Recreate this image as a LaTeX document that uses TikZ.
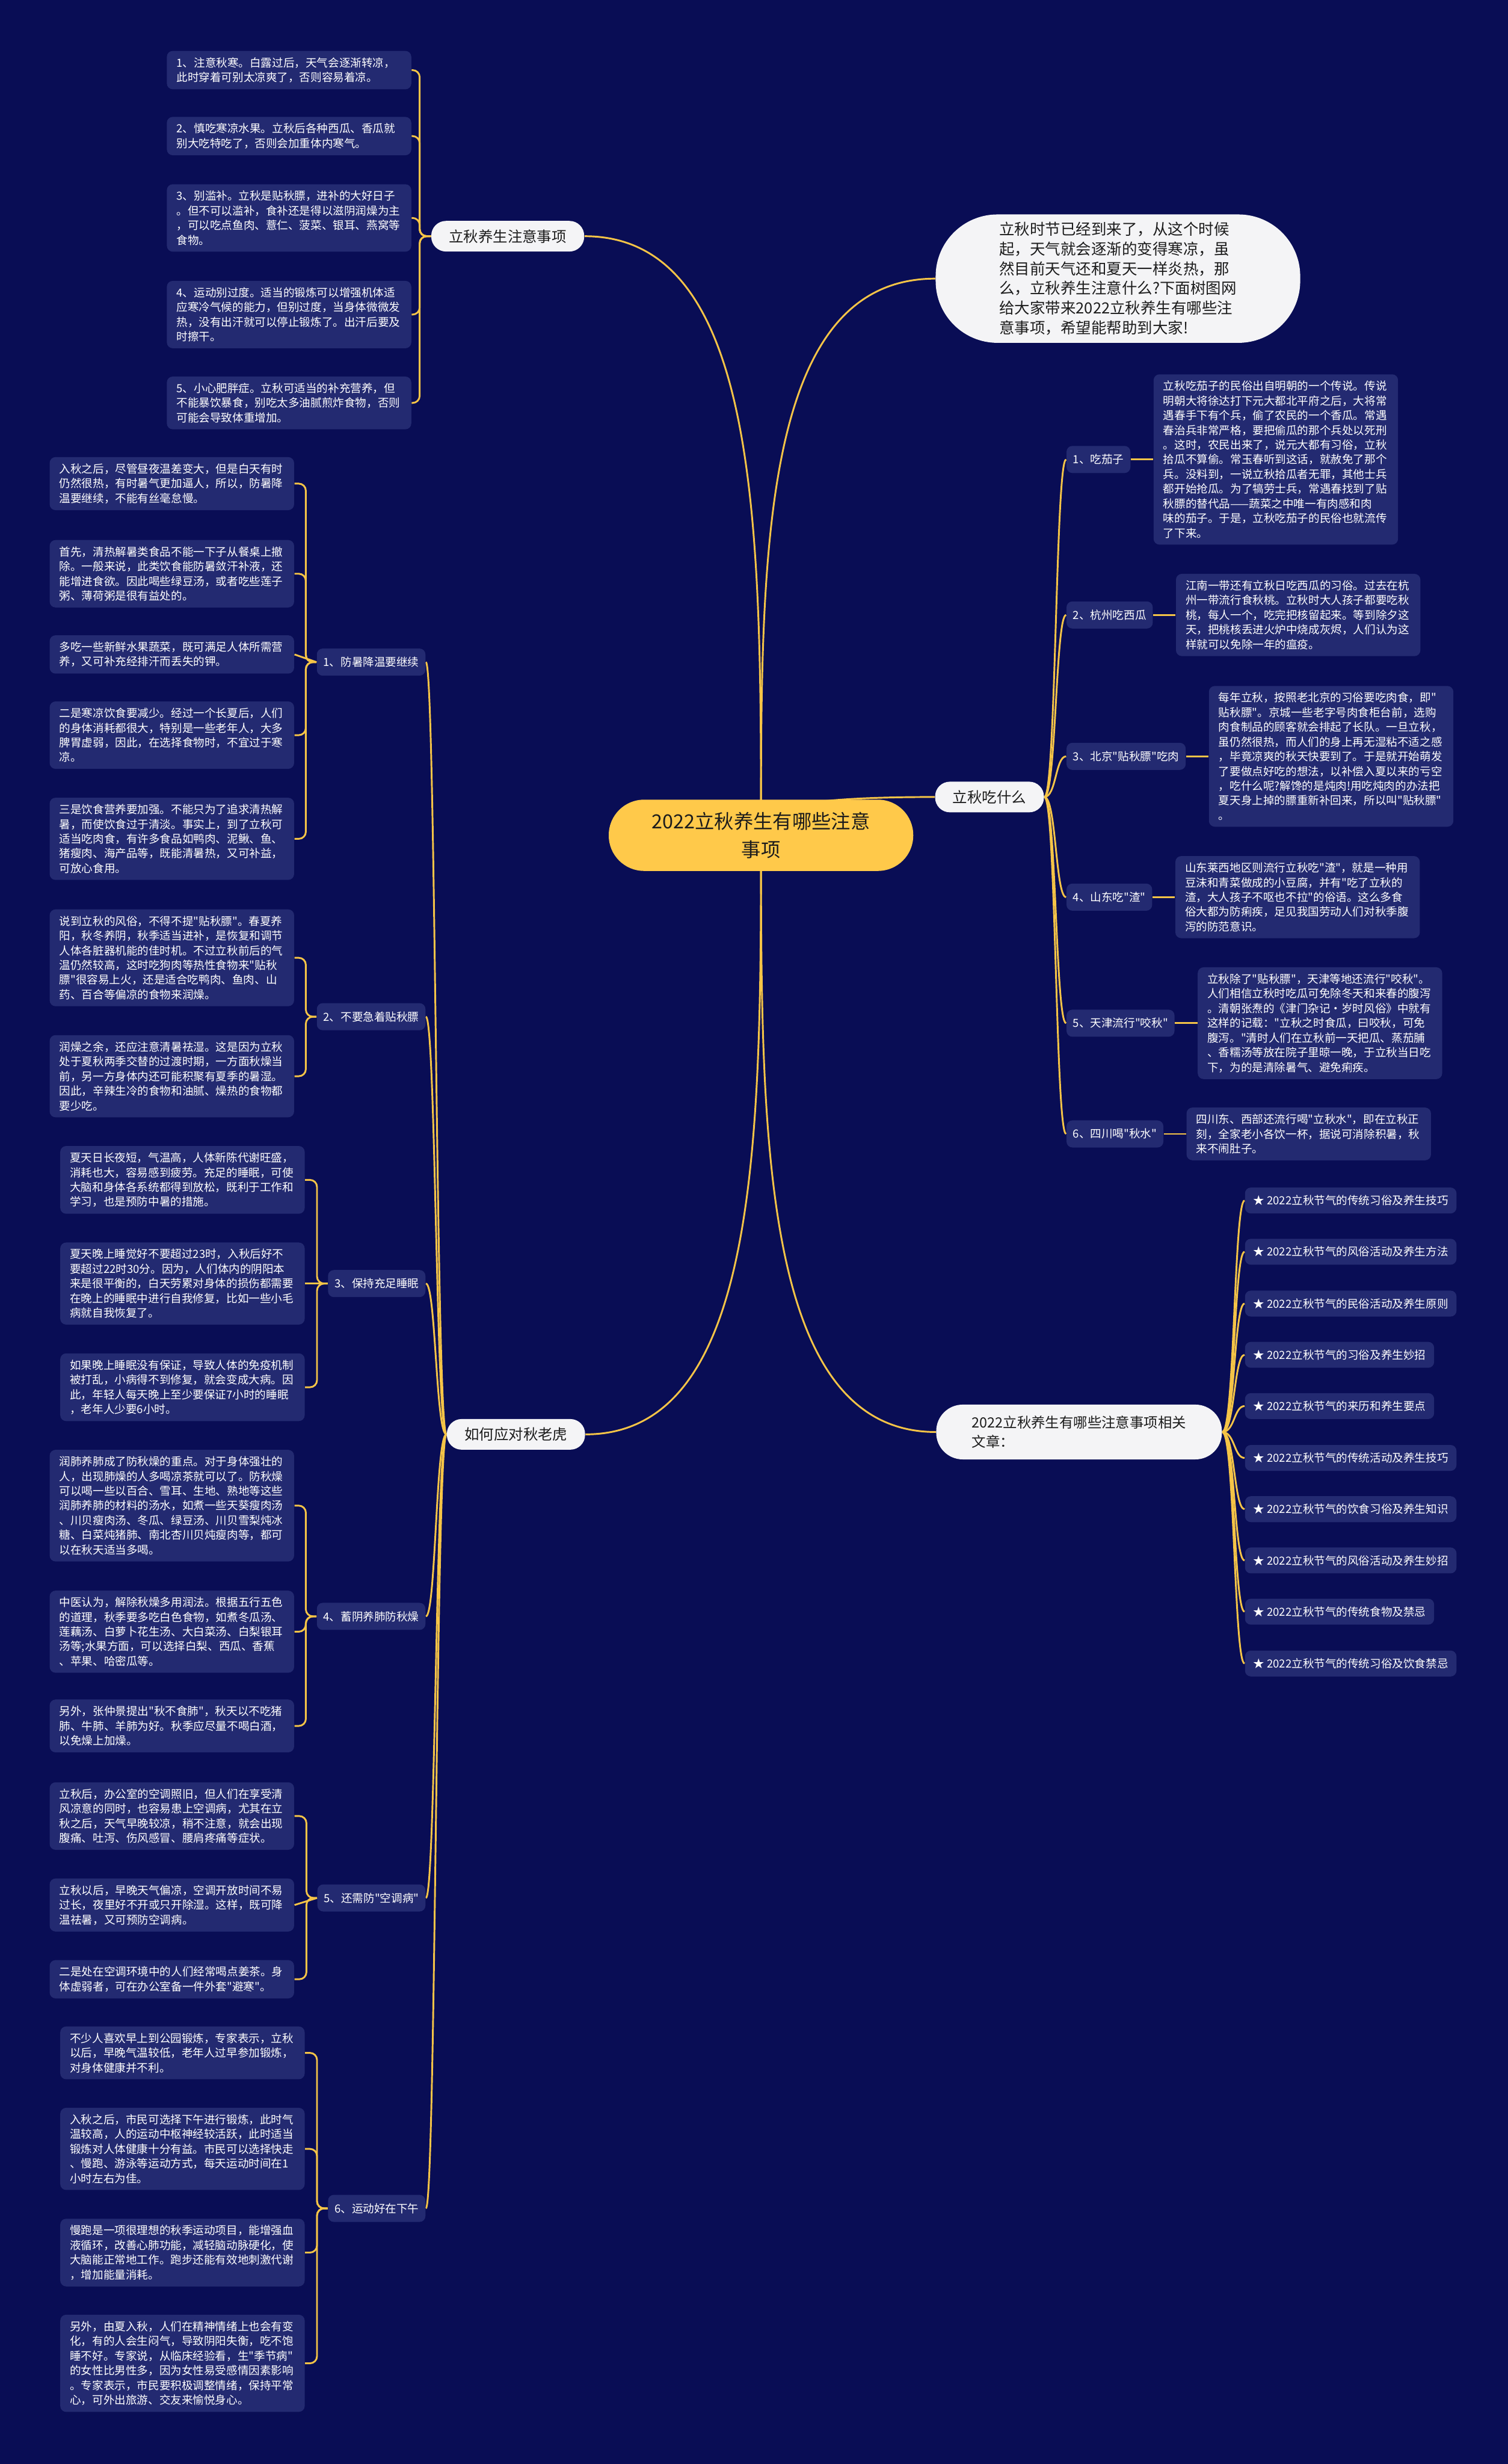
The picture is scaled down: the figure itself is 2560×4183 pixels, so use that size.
\documentclass[tikz,border=0pt]{standalone}
\usepackage{fontspec}
\setmainfont{Noto Sans CJK SC}[Ligatures=TeXOff]
\usetikzlibrary{positioning,backgrounds}
\setlength\parindent{0pt}

\definecolor{bgnavy}{HTML}{090D55}
\definecolor{leafnavy}{HTML}{232A71}
\definecolor{linkgold}{HTML}{F5C447}
\definecolor{rootyellow}{HTML}{FFC94A}
\definecolor{topicwhite}{HTML}{F4F4F6}
\definecolor{inkdark}{HTML}{1C1C1C}

\newcommand\leaffont{\fontsize{5.4pt}{7.1pt}\selectfont}
\newcommand\topicfont{\fontsize{7.1pt}{9.5pt}\selectfont}
\newcommand\introfont{\fontsize{7.4pt}{9.5pt}\selectfont}
\newcommand\rootfont{\fontsize{9.4pt}{13.6pt}\selectfont}

\begin{document}
\begin{tikzpicture}[
  x=0.1mm, y=-0.1mm,
  leafbox/.style={fill=leafnavy, text=white, rounded corners=1mm, font=\leaffont,
    text width=38.2mm, align=left, inner xsep=1.65mm, inner ysep=1.1mm},
  subbox/.style={fill=leafnavy, text=white, rounded corners=1mm, font=\leaffont,
    minimum height=4.6mm, inner xsep=1.1mm, inner ysep=0.4mm},
  artbox/.style={subbox, minimum height=4.4mm, inner xsep=1.4mm},
  topicbox/.style={fill=topicwhite, text=inkdark, rounded corners=2.5mm, font=\topicfont,
    minimum height=5.2mm, inner xsep=3mm, inner ysep=0.5mm},
  rootbox/.style={fill=rootyellow, text=inkdark, rounded corners=6mm, font=\rootfont,
    align=center, minimum width=51.7mm, minimum height=12.1mm},
  link/.style={draw=linkgold, line width=0.3mm},
  twig/.style={link, rounded corners=1.2mm},
  node distance=3.8mm
]
\useasboundingbox (0,0) rectangle (2560,4183);

% ---------- ROOT ----------
\node[rootbox] (root) at (1292,1418) {2022立秋养生有哪些注意\\事项};

% ---------- TOPICS ----------
\node[topicbox, font=\introfont, align=left, rounded corners=10.5mm, minimum width=61.9mm,
  minimum height=21.8mm] (intro) at (1898,473)
  {立秋时节已经到来了，从这个时候\\起，天气就会逐渐的变得寒凉，虽\\然目前天气还和夏天一样炎热，那\\么，立秋养生注意什么?下面树图网\\给大家带来2022立秋养生有哪些注\\意事项，希望能帮助到大家!};
\node[topicbox] (care) at (862,401) {立秋养生注意事项};
\node[topicbox] (eat) at (1680,1353) {立秋吃什么};
\node[topicbox] (tiger) at (876,2435) {如何应对秋老虎};
\node[topicbox, font=\fontsize{6.8pt}{9.3pt}\selectfont, align=left, rounded corners=4.5mm,
  minimum width=48.5mm, minimum height=9.3mm] (rel) at (1832,2431)
  {2022立秋养生有哪些注意事项相关\\文章：};

% ---------- CARE LEAVES ----------
\node[leafbox, anchor=east] (care1) at (699,119) {1、注意秋寒。白露过后，天气会逐渐转凉，\\此时穿着可别太凉爽了，否则容易着凉。};
\node[leafbox, anchor=east] (care2) at (699,231) {2、慎吃寒凉水果。立秋后各种西瓜、香瓜就\\别大吃特吃了，否则会加重体内寒气。};
\node[leafbox, anchor=east] (care3) at (699,370) {3、别滥补。立秋是贴秋膘，进补的大好日子\\。但不可以滥补，食补还是得以滋阴润燥为主\\，可以吃点鱼肉、薏仁、菠菜、银耳、燕窝等\\食物。};
\node[leafbox, anchor=east] (care4) at (699,534) {4、运动别过度。适当的锻炼可以增强机体适\\应寒冷气候的能力，但别过度，当身体微微发\\热，没有出汗就可以停止锻炼了。出汗后要及\\时擦干。};
\node[leafbox, anchor=east] (care5) at (699,684) {5、小心肥胖症。立秋可适当的补充营养，但\\不能暴饮暴食，别吃太多油腻煎炸食物，否则\\可能会导致体重增加。};

% ---------- EAT BRANCH ----------
\node[subbox, anchor=west] (eat1) at (1810,780) {1、吃茄子};
\node[subbox, anchor=west] (eat2) at (1810,1044) {2、杭州吃西瓜};
\node[subbox, anchor=west] (eat3) at (1810,1284) {3、北京"贴秋膘"吃肉};
\node[subbox, anchor=west] (eat4) at (1810,1523) {4、山东吃"渣"};
\node[subbox, anchor=west] (eat5) at (1810,1737) {5、天津流行"咬秋"};
\node[subbox, anchor=west] (eat6) at (1810,1925) {6、四川喝"秋水"};

\node[leafbox, right=of eat1] (eat1t) {立秋吃茄子的民俗出自明朝的一个传说。传说\\明朝大将徐达打下元大都北平府之后，大将常\\遇春手下有个兵，偷了农民的一个香瓜。常遇\\春治兵非常严格，要把偷瓜的那个兵处以死刑\\。这时，农民出来了，说元大都有习俗，立秋\\拾瓜不算偷。常玉春听到这话，就赦免了那个\\兵。没料到，一说立秋拾瓜者无罪，其他士兵\\都开始抢瓜。为了犒劳士兵，常遇春找到了贴\\秋膘的替代品——蔬菜之中唯一有肉感和肉\\味的茄子。于是，立秋吃茄子的民俗也就流传\\了下来。};
\node[leafbox, right=of eat2] (eat2t) {江南一带还有立秋日吃西瓜的习俗。过去在杭\\州一带流行食秋桃。立秋时大人孩子都要吃秋\\桃，每人一个，吃完把核留起来。等到除夕这\\天，把桃核丢进火炉中烧成灰烬，人们认为这\\样就可以免除一年的瘟疫。};
\node[leafbox, right=of eat3] (eat3t) {每年立秋，按照老北京的习俗要吃肉食，即"\\贴秋膘"。京城一些老字号肉食柜台前，选购\\肉食制品的顾客就会排起了长队。一旦立秋，\\虽仍然很热，而人们的身上再无湿粘不适之感\\，毕竟凉爽的秋天快要到了。于是就开始萌发\\了要做点好吃的想法，以补偿入夏以来的亏空\\，吃什么呢?解馋的是炖肉!用吃炖肉的办法把\\夏天身上掉的膘重新补回来，所以叫"贴秋膘"\\。};
\node[leafbox, right=of eat4] (eat4t) {山东莱西地区则流行立秋吃"渣"，就是一种用\\豆沫和青菜做成的小豆腐，并有"吃了立秋的\\渣，大人孩子不呕也不拉"的俗语。这么多食\\俗大都为防痢疾，足见我国劳动人们对秋季腹\\泻的防范意识。};
\node[leafbox, right=of eat5] (eat5t) {立秋除了"贴秋膘"，天津等地还流行"咬秋"。\\人们相信立秋时吃瓜可免除冬天和来春的腹泻\\。清朝张焘的《津门杂记·岁时风俗》中就有\\这样的记载："立秋之时食瓜，曰咬秋，可免\\腹泻。"清时人们在立秋前一天把瓜、蒸茄脯\\、香糯汤等放在院子里晾一晚，于立秋当日吃\\下，为的是清除暑气、避免痢疾。};
\node[leafbox, right=of eat6] (eat6t) {四川东、西部还流行喝"立秋水"，即在立秋正\\刻，全家老小各饮一杯，据说可消除积暑，秋\\来不闹肚子。};

% ---------- RELATED ARTICLES ----------
\node[artbox, anchor=west] (art1) at (2113,2038) {★ 2022立秋节气的传统习俗及养生技巧};
\node[artbox, anchor=west] (art2) at (2113,2125) {★ 2022立秋节气的风俗活动及养生方法};
\node[artbox, anchor=west] (art3) at (2113,2213) {★ 2022立秋节气的民俗活动及养生原则};
\node[artbox, anchor=west] (art4) at (2113,2300) {★ 2022立秋节气的习俗及养生妙招};
\node[artbox, anchor=west] (art5) at (2113,2387) {★ 2022立秋节气的来历和养生要点};
\node[artbox, anchor=west] (art6) at (2113,2475) {★ 2022立秋节气的传统活动及养生技巧};
\node[artbox, anchor=west] (art7) at (2113,2562) {★ 2022立秋节气的饮食习俗及养生知识};
\node[artbox, anchor=west] (art8) at (2113,2649) {★ 2022立秋节气的风俗活动及养生妙招};
\node[artbox, anchor=west] (art9) at (2113,2736) {★ 2022立秋节气的传统食物及禁忌};
\node[artbox, anchor=west] (art10) at (2113,2824) {★ 2022立秋节气的传统习俗及饮食禁忌};

% ---------- TIGER BRANCH ----------
\node[subbox, anchor=east] (t1) at (723,1124) {1、防暑降温要继续};
\node[subbox, anchor=east] (t2) at (723,1726) {2、不要急着贴秋膘};
\node[subbox, anchor=east] (t3) at (723,2179) {3、保持充足睡眠};
\node[subbox, anchor=east] (t4) at (723,2744) {4、蓄阴养肺防秋燥};
\node[subbox, anchor=east] (t5) at (723,3222) {5、还需防"空调病"};
\node[subbox, anchor=east] (t6) at (723,3749) {6、运动好在下午};

\node[leafbox, anchor=east] (t1a) at (500,821) {入秋之后，尽管昼夜温差变大，但是白天有时\\仍然很热，有时暑气更加逼人，所以，防暑降\\温要继续，不能有丝毫怠慢。};
\node[leafbox, anchor=east] (t1b) at (500,974) {首先，清热解暑类食品不能一下子从餐桌上撤\\除。一般来说，此类饮食能防暑敛汗补液，还\\能增进食欲。因此喝些绿豆汤，或者吃些莲子\\粥、薄荷粥是很有益处的。};
\node[leafbox, anchor=east] (t1c) at (500,1111) {多吃一些新鲜水果蔬菜，既可满足人体所需营\\养，又可补充经排汗而丢失的钾。};
\node[leafbox, anchor=east] (t1d) at (500,1248) {二是寒凉饮食要减少。经过一个长夏后，人们\\的身体消耗都很大，特别是一些老年人，大多\\脾胃虚弱，因此，在选择食物时，不宜过于寒\\凉。};
\node[leafbox, anchor=east] (t1e) at (500,1424) {三是饮食营养要加强。不能只为了追求清热解\\暑，而使饮食过于清淡。事实上，到了立秋可\\适当吃肉食，有许多食品如鸭肉、泥鳅、鱼、\\猪瘦肉、海产品等，既能清暑热，又可补益，\\可放心食用。};

\node[leafbox, anchor=east] (t2a) at (500,1626) {说到立秋的风俗，不得不提"贴秋膘"。春夏养\\阳，秋冬养阴，秋季适当进补，是恢复和调节\\人体各脏器机能的佳时机。不过立秋前后的气\\温仍然较高，这时吃狗肉等热性食物来"贴秋\\膘"很容易上火，还是适合吃鸭肉、鱼肉、山\\药、百合等偏凉的食物来润燥。};
\node[leafbox, anchor=east] (t2b) at (500,1827) {润燥之余，还应注意清暑祛湿。这是因为立秋\\处于夏秋两季交替的过渡时期，一方面秋燥当\\前，另一方身体内还可能积聚有夏季的暑湿。\\因此，辛辣生冷的食物和油腻、燥热的食物都\\要少吃。};

\node[leafbox, anchor=east] (t3a) at (518,2003) {夏天日长夜短，气温高，人体新陈代谢旺盛，\\消耗也大，容易感到疲劳。充足的睡眠，可使\\大脑和身体各系统都得到放松，既利于工作和\\学习，也是预防中暑的措施。};
\node[leafbox, anchor=east] (t3b) at (518,2179) {夏天晚上睡觉好不要超过23时，入秋后好不\\要超过22时30分。因为，人们体内的阴阳本\\来是很平衡的，白天劳累对身体的损伤都需要\\在晚上的睡眠中进行自我修复，比如一些小毛\\病就自我恢复了。};
\node[leafbox, anchor=east] (t3c) at (518,2355) {如果晚上睡眠没有保证，导致人体的免疫机制\\被打乱，小病得不到修复，就会变成大病。因\\此，年轻人每天晚上至少要保证7小时的睡眠\\，老年人少要6小时。};

\node[leafbox, anchor=east] (t4a) at (500,2556) {润肺养肺成了防秋燥的重点。对于身体强壮的\\人，出现肺燥的人多喝凉茶就可以了。防秋燥\\可以喝一些以百合、雪耳、生地、熟地等这些\\润肺养肺的材料的汤水，如煮一些天葵瘦肉汤\\、川贝瘦肉汤、冬瓜、绿豆汤、川贝雪梨炖冰\\糖、白菜炖猪肺、南北杏川贝炖瘦肉等，都可\\以在秋天适当多喝。};
\node[leafbox, anchor=east] (t4b) at (500,2770) {中医认为，解除秋燥多用润法。根据五行五色\\的道理，秋季要多吃白色食物，如煮冬瓜汤、\\莲藕汤、白萝卜花生汤、大白菜汤、白梨银耳\\汤等;水果方面，可以选择白梨、西瓜、香蕉\\、苹果、哈密瓜等。};
\node[leafbox, anchor=east] (t4c) at (500,2930) {另外，张仲景提出"秋不食肺"，秋天以不吃猪\\肺、牛肺、羊肺为好。秋季应尽量不喝白酒，\\以免燥上加燥。};

\node[leafbox, anchor=east] (t5a) at (500,3083) {立秋后，办公室的空调照旧，但人们在享受清\\风凉意的同时，也容易患上空调病，尤其在立\\秋之后，天气早晚较凉，稍不注意，就会出现\\腹痛、吐泻、伤风感冒、腰肩疼痛等症状。};
\node[leafbox, anchor=east] (t5b) at (500,3234) {立秋以后，早晚天气偏凉，空调开放时间不易\\过长，夜里好不开或只开除湿。这样，既可降\\温祛暑，又可预防空调病。};
\node[leafbox, anchor=east] (t5c) at (500,3360) {二是处在空调环境中的人们经常喝点姜茶。身\\体虚弱者，可在办公室备一件外套"避寒"。};

\node[leafbox, anchor=east] (t6a) at (518,3485) {不少人喜欢早上到公园锻炼，专家表示，立秋\\以后，早晚气温较低，老年人过早参加锻炼，\\对身体健康并不利。};
\node[leafbox, anchor=east] (t6b) at (518,3648) {入秋之后，市民可选择下午进行锻炼，此时气\\温较高，人的运动中枢神经较活跃，此时适当\\锻炼对人体健康十分有益。市民可以选择快走\\、慢跑、游泳等运动方式，每天运动时间在1\\小时左右为佳。};
\node[leafbox, anchor=east] (t6c) at (518,3824) {慢跑是一项很理想的秋季运动项目，能增强血\\液循环，改善心肺功能，减轻脑动脉硬化，使\\大脑能正常地工作。跑步还能有效地刺激代谢\\，增加能量消耗。};
\node[leafbox, anchor=east] (t6d) at (518,4012) {另外，由夏入秋，人们在精神情绪上也会有变\\化，有的人会生闷气，导致阴阳失衡，吃不饱\\睡不好。专家说，从临床经验看，生"季节病"\\的女性比男性多，因为女性易受感情因素影响\\。专家表示，市民要积极调整情绪，保持平常\\心，可外出旅游、交友来愉悦身心。};

% ---------- CONNECTORS ----------
\begin{scope}[on background layer]
\fill[bgnavy] (0,0) rectangle (2560,4183);

\draw[link] (root.center) .. controls +(0,-508) and +(300,0) .. (care.east);
\draw[link] (root.center) .. controls +(0,-473) and +(-297,0) .. (intro.west);
\draw[link] (root.center) .. controls +(0,-33) and +(-297,0) .. (eat.west);
\draw[link] (root.center) .. controls +(0,508) and +(296,0) .. (tiger.east);
\draw[link] (root.center) .. controls +(0,506) and +(-297,0) .. (rel.west);

\draw[twig] (care.west) -- ++(-19,0) |- (care1.east);
\draw[twig] (care.west) -- ++(-19,0) |- (care2.east);
\draw[twig] (care.west) -- ++(-19,0) |- (care3.east);
\draw[twig] (care.west) -- ++(-19,0) |- (care4.east);
\draw[twig] (care.west) -- ++(-19,0) |- (care5.east);

\draw[link] (eat.east) .. controls +(20,0) and +(-18,0) .. (eat1.west);
\draw[link] (eat.east) .. controls +(20,0) and +(-18,0) .. (eat2.west);
\draw[link] (eat.east) .. controls +(20,0) and +(-18,0) .. (eat3.west);
\draw[link] (eat.east) .. controls +(20,0) and +(-18,0) .. (eat4.west);
\draw[link] (eat.east) .. controls +(20,0) and +(-18,0) .. (eat5.west);
\draw[link] (eat.east) .. controls +(20,0) and +(-18,0) .. (eat6.west);
\draw[link] (eat1) -- (eat1t);
\draw[link] (eat2) -- (eat2t);
\draw[link] (eat3) -- (eat3t);
\draw[link] (eat4) -- (eat4t);
\draw[link] (eat5) -- (eat5t);
\draw[link] (eat6) -- (eat6t);

\draw[link] (rel.east) .. controls +(21,0) and +(-18,0) .. (art1.west);
\draw[link] (rel.east) .. controls +(21,0) and +(-18,0) .. (art2.west);
\draw[link] (rel.east) .. controls +(21,0) and +(-18,0) .. (art3.west);
\draw[link] (rel.east) .. controls +(21,0) and +(-18,0) .. (art4.west);
\draw[link] (rel.east) .. controls +(21,0) and +(-18,0) .. (art5.west);
\draw[link] (rel.east) .. controls +(21,0) and +(-18,0) .. (art6.west);
\draw[link] (rel.east) .. controls +(21,0) and +(-18,0) .. (art7.west);
\draw[link] (rel.east) .. controls +(21,0) and +(-18,0) .. (art8.west);
\draw[link] (rel.east) .. controls +(21,0) and +(-18,0) .. (art9.west);
\draw[link] (rel.east) .. controls +(21,0) and +(-18,0) .. (art10.west);

\draw[link] (tiger.west) .. controls +(-18,0) and +(17,0) .. (t1.east);
\draw[link] (tiger.west) .. controls +(-18,0) and +(17,0) .. (t2.east);
\draw[link] (tiger.west) .. controls +(-18,0) and +(17,0) .. (t3.east);
\draw[link] (tiger.west) .. controls +(-18,0) and +(17,0) .. (t4.east);
\draw[link] (tiger.west) .. controls +(-18,0) and +(17,0) .. (t5.east);
\draw[link] (tiger.west) .. controls +(-18,0) and +(17,0) .. (t6.east);

\draw[twig] (t1.west) -- ++(-18,0) |- (t1a.east);
\draw[twig] (t1.west) -- ++(-18,0) |- (t1b.east);
\draw[link] (t1.west) -- (t1c.east);
\draw[twig] (t1.west) -- ++(-18,0) |- (t1d.east);
\draw[twig] (t1.west) -- ++(-18,0) |- (t1e.east);
\draw[twig] (t2.west) -- ++(-18,0) |- (t2a.east);
\draw[twig] (t2.west) -- ++(-18,0) |- (t2b.east);
\draw[twig] (t3.west) -- ++(-18,0) |- (t3a.east);
\draw[link] (t3.west) -- (t3b.east);
\draw[twig] (t3.west) -- ++(-18,0) |- (t3c.east);
\draw[twig] (t4.west) -- ++(-18,0) |- (t4a.east);
\draw[twig] (t4.west) -- ++(-18,0) |- (t4b.east);
\draw[twig] (t4.west) -- ++(-18,0) |- (t4c.east);
\draw[twig] (t5.west) -- ++(-18,0) |- (t5a.east);
\draw[link] (t5.west) -- (t5b.east);
\draw[twig] (t5.west) -- ++(-18,0) |- (t5c.east);
\draw[twig] (t6.west) -- ++(-18,0) |- (t6a.east);
\draw[twig] (t6.west) -- ++(-18,0) |- (t6b.east);
\draw[twig] (t6.west) -- ++(-18,0) |- (t6c.east);
\draw[twig] (t6.west) -- ++(-18,0) |- (t6d.east);
\end{scope}

\end{tikzpicture}
\end{document}
